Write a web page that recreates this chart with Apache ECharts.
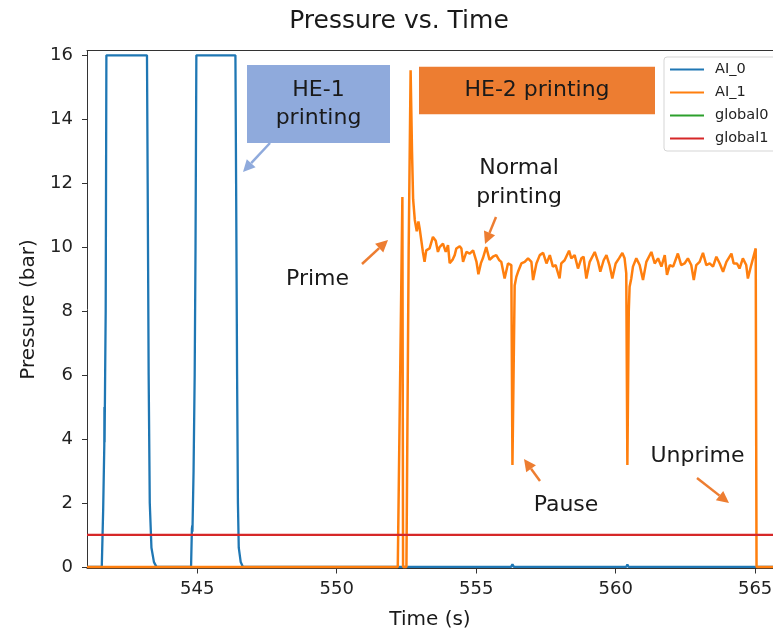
<!DOCTYPE html>
<html>
<head>
<meta charset="utf-8">
<script src="https://cdn.jsdelivr.net/npm/echarts@6/dist/echarts.min.js"></script>
<style>
  html, body { margin: 0; padding: 0; background: #fff; }
  #chart { width: 773px; height: 631px; }
</style>
</head>
<body>
<div id="chart"></div>
<script>
// tick labels
const xTicks = [545, 550, 555, 560, 565]
const yTicks = [0, 2, 4, 6, 8, 10, 12, 14, 16]

// AI_0 (HE-1) : [time s, pressure bar]
const ai0 = [
  [541.05, 0], [541.58, 0], [541.63, 1.8], [541.67, 3.8], [541.675, 5.0], [541.68, 3.9],
  [541.70, 6], [541.72, 8], [541.745, 16], [543.20, 16], [543.225, 12], [543.26, 6],
  [543.30, 2], [543.36, 0.6], [543.45, 0.15], [543.54, 0],
  [544.78, 0], [544.81, 1.2], [544.825, 1.3], [544.83, 1.1], [544.87, 3], [544.91, 6],
  [544.94, 10], [544.97, 16], [546.37, 16], [546.395, 12], [546.43, 6], [546.46, 2],
  [546.49, 0.6], [546.56, 0.15], [546.64, 0],
  [556.25, 0], [556.30, 0.08], [556.35, 0], [560.38, 0], [560.42, 0.08], [560.46, 0],
  [566, 0]
]

// AI_1 (HE-2)
const ai1 = [
  [541.05, 0], [552.19, 0], [552.355, 11.57], [552.38, 0], [552.50, 0], [552.58, 9.9],
  [552.65, 15.53], [552.70, 13.0], [552.74, 11.5], [552.80, 10.85], [552.87, 10.5],
  [552.93, 10.8], [552.98, 10.55], [553.09, 9.85], [553.15, 9.54], [553.21, 9.9],
  [553.33, 9.96], [553.45, 10.32], [553.55, 10.2], [553.63, 9.85], [553.69, 10.0],
  [553.81, 10.11], [553.91, 9.85], [553.99, 10.06], [554.05, 9.5], [554.15, 9.6],
  [554.23, 9.75], [554.29, 9.96], [554.41, 10.03], [554.47, 9.96], [554.53, 9.54],
  [554.65, 9.85], [554.77, 9.8], [554.89, 9.9], [555.01, 9.55], [555.08, 9.15],
  [555.17, 9.5], [555.24, 9.65], [555.36, 10.0], [555.48, 9.6], [555.60, 9.7],
  [555.72, 9.75], [555.82, 9.6], [555.90, 9.54], [555.96, 9.49], [556.02, 9.02],
  [556.14, 9.49], [556.26, 9.44], [556.30, 3.19], [556.38, 8.8], [556.44, 9.07],
  [556.50, 9.23], [556.62, 9.49], [556.74, 9.54], [556.86, 9.65], [556.98, 9.54],
  [557.04, 8.97], [557.16, 9.49], [557.28, 9.75], [557.40, 9.82], [557.52, 9.49],
  [557.64, 9.75], [557.75, 9.39], [557.85, 9.44], [557.99, 9.02], [558.05, 9.49],
  [558.17, 9.59], [558.33, 9.89], [558.41, 9.65], [558.53, 9.75], [558.65, 9.33],
  [558.77, 9.65], [558.85, 9.70], [558.95, 9.02], [559.07, 9.54], [559.25, 9.85],
  [559.37, 9.54], [559.45, 9.23], [559.57, 9.59], [559.67, 9.75], [559.78, 9.44],
  [559.88, 9.02], [560.00, 9.49], [560.12, 9.65], [560.24, 9.82], [560.32, 9.65],
  [560.38, 9.18], [560.42, 3.19], [560.47, 8.0], [560.50, 8.76], [560.56, 9.02],
  [560.62, 9.39], [560.74, 9.65], [560.86, 9.44], [560.98, 8.97], [561.10, 9.54],
  [561.28, 9.85], [561.40, 9.49], [561.52, 9.65], [561.64, 9.39], [561.76, 9.75],
  [561.84, 9.13], [561.94, 9.44], [562.06, 9.39], [562.23, 9.80], [562.35, 9.44],
  [562.47, 9.49], [562.59, 9.65], [562.71, 9.44], [562.80, 8.97], [562.89, 9.44],
  [563.01, 9.54], [563.13, 9.82], [563.25, 9.44], [563.37, 9.49], [563.49, 9.39],
  [563.61, 9.70], [563.73, 9.49], [563.85, 9.23], [563.97, 9.54], [564.15, 9.80],
  [564.23, 9.49], [564.35, 9.49], [564.44, 9.33], [564.56, 9.65], [564.68, 9.44],
  [564.74, 9.02], [564.86, 9.44], [564.92, 9.49], [565.02, 9.96], [565.05, 0],
  [566, 0]
]

// global0 has no visible samples, global1 is the 1 bar reference
const global0 = []
const global1 = [[541.05, 1], [566, 1]]

const font = 'DejaVu Sans'
const ink = '#1a1a1a'
const xMin = 541.05, xMax = 565.64

// 注释箭头
function arrow(x1, y1, x2, y2, color) {
  const a = Math.atan2(y2 - y1, x2 - x1)
  const L = 12, W = 6
  const bx = x2 - L * Math.cos(a), by = y2 - L * Math.sin(a)
  return {
    type: 'group',
    z: 100,
    children: [
      { type: 'line', shape: { x1, y1, x2: bx, y2: by }, style: { stroke: color, lineWidth: 2.5 } },
      {
        type: 'polygon',
        shape: { points: [[x2, y2], [bx + W * Math.sin(a), by - W * Math.cos(a)], [bx - W * Math.sin(a), by + W * Math.cos(a)]] },
        style: { fill: color }
      }
    ]
  }
}

function label(text, x, y, lineHeight) {
  return {
    type: 'text', x, y, z: 100,
    style: {
      text, fill: ink, font: '22px "DejaVu Sans"',
      align: 'center', verticalAlign: 'middle', lineHeight: lineHeight || 28
    }
  }
}

const chart = echarts.init(document.getElementById('chart'))
chart.setOption({
  animation: false,
  backgroundColor: '#fff',
  grid: { left: 87, top: 50.5, right: 0, height: 518, outerBoundsMode: 'none', containLabel: false },
  xAxis: [
    {
      type: 'value', min: xMin, max: xMax,
      name: 'Time (s)', nameLocation: 'middle', nameGap: 41,
      nameTextStyle: { fontFamily: font, fontSize: 20, color: ink },
      axisLine: { show: true, onZero: false, lineStyle: { color: '#333' } },
      axisTick: { show: true, customValues: xTicks, length: 5, lineStyle: { color: '#333' } },
      axisLabel: { customValues: xTicks, fontFamily: font, fontSize: 18, color: '#222', margin: 12 },
      splitLine: { show: false }
    },
    {
      type: 'value', min: xMin, max: xMax, position: 'top',
      axisLine: { show: true, onZero: false, lineStyle: { color: '#333' } },
      axisTick: { show: false }, axisLabel: { show: false }, splitLine: { show: false }
    }
  ],
  yAxis: {
    type: 'value', min: -0.05, max: 16.15,
    name: 'Pressure (bar)', nameLocation: 'middle', nameGap: 46,
    nameTextStyle: { fontFamily: font, fontSize: 20, color: ink },
    axisLine: { show: true, onZero: false, lineStyle: { color: '#333' } },
    axisTick: { show: true, customValues: yTicks, length: 5, lineStyle: { color: '#333' } },
    axisLabel: { customValues: yTicks, fontFamily: font, fontSize: 18, color: '#222', margin: 14 },
    splitLine: { show: false }
  },
  legend: {
    orient: 'vertical', left: 664, top: 57,
    padding: [5, 20, 5, 5],
    itemWidth: 34, itemHeight: 14, itemGap: 8,
    borderColor: '#d5d5d5', borderWidth: 1, borderRadius: 3,
    backgroundColor: 'rgba(255,255,255,0.8)',
    itemStyle: { color: 'rgba(0,0,0,0)', borderWidth: 0 },
    textStyle: { fontFamily: font, fontSize: 14.5, color: '#222', padding: [0, 0, 0, 6] },
    data: ['AI_0', 'AI_1', 'global0', 'global1']
  },
  series: [
    { name: 'AI_0', type: 'line', data: ai0, symbol: 'none', color: '#1f77b4', lineStyle: { width: 2.3 } },
    { name: 'AI_1', type: 'line', data: ai1, symbol: 'none', color: '#ff7f0e', lineStyle: { width: 2.5 } },
    { name: 'global0', type: 'line', data: global0, symbol: 'none', color: '#2ca02c', lineStyle: { width: 2.3 } },
    { name: 'global1', type: 'line', data: global1, symbol: 'none', color: '#d62728', lineStyle: { width: 2.3 } }
  ],
  graphic: [
    {
      type: 'text', x: 399, y: 21,
      style: { text: 'Pressure vs. Time', fill: ink, font: '25px "DejaVu Sans"', align: 'center', verticalAlign: 'middle' }
    },
    { type: 'rect', z: 90, shape: { x: 247, y: 65, width: 143, height: 78 }, style: { fill: '#8faadc' } },
    label('HE-1\nprinting', 318.5, 104),
    { type: 'rect', z: 90, shape: { x: 419, y: 66.7, width: 236, height: 47.6 }, style: { fill: '#ed7d31' } },
    label('HE-2 printing', 537, 90),
    label('Normal\nprinting', 519, 182.5, 29),
    label('Prime', 317.5, 279),
    label('Pause', 566, 505),
    label('Unprime', 697.5, 456),
    arrow(270, 143, 243, 172, '#8faadc'),
    arrow(496, 217, 485, 244, '#ed7d31'),
    arrow(362, 264, 388, 240, '#ed7d31'),
    arrow(540, 481, 524, 459, '#ed7d31'),
    arrow(697, 478, 729, 503, '#ed7d31')
  ]
})
</script>
</body>
</html>
